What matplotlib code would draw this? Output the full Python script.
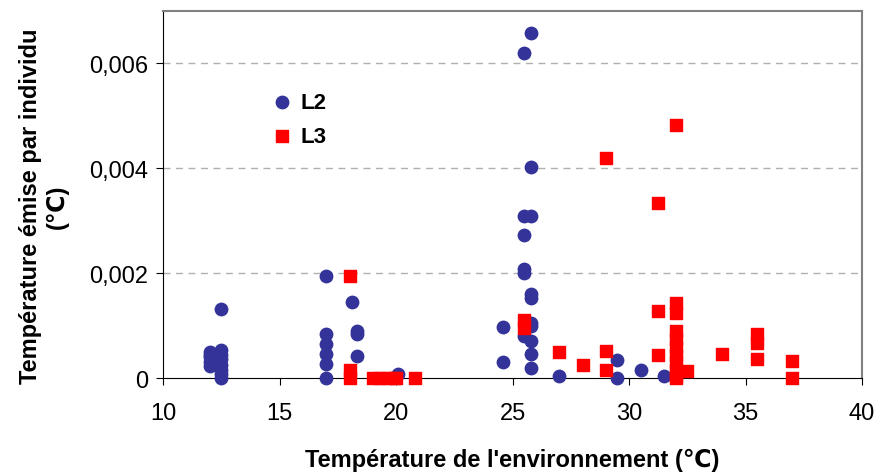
import numpy as np
import matplotlib.pyplot as plt

plt.rcParams['font.family'] = ['Liberation Sans', 'DejaVu Sans']

# L2 (blue circles)
l2_x = [12, 12, 12, 12, 12,
        12.5, 12.5, 12.5, 12.5, 12.5, 12.5, 12.5, 12.5,
        17, 17, 17, 17, 17, 17,
        18.1, 18.3, 18.3, 18.3,
        20.1,
        24.6, 24.6,
        25.5, 25.5, 25.5, 25.5, 25.5, 25.5,
        25.8, 25.8, 25.8, 25.8, 25.8, 25.8, 25.8, 25.8, 25.8, 25.8,
        27.0, 29.5, 29.5, 30.5, 31.5]
l2_y = [0.0005, 0.00045, 0.0004, 0.0003, 0.00024,
        0.00132, 0.00054, 0.00045, 0.00036, 0.00026, 0.00016, 0.00008, 0.0,
        0.00195, 0.00084, 0.00065, 0.00046, 0.00027, 0.0,
        0.00146, 0.0009, 0.00085, 0.00043,
        0.00008,
        0.00098, 0.0003,
        0.0062, 0.0031, 0.00272, 0.00208, 0.002, 0.00081,
        0.00658, 0.00402, 0.0031, 0.0016, 0.00153, 0.00106, 0.001, 0.0007, 0.00046, 0.00019,
        0.00005, 0.00035, 0.0, 0.00016, 0.00005]

# L3 (red squares)
l3_x = [18, 18, 18, 19.0, 19.3, 19.6, 19.9, 20.0, 20.8,
        25.5, 25.5, 27.0, 28.0, 29.0, 29.0, 29.0,
        31.25, 31.25, 31.25,
        32, 32, 32, 32, 32, 32, 32, 32, 32, 32, 32,
        32.5, 34.0, 35.5, 35.5, 35.5, 37, 37]
l3_y = [0.00195, 0.00015, 0.0, 0.0, 0.0, 0.0, 0.0, 0.0, 0.0,
        0.0011, 0.00095, 0.0005, 0.00026, 0.0042, 0.00052, 0.00016,
        0.00333, 0.00128, 0.00044,
        0.00483, 0.00143, 0.00125, 0.0009, 0.00075, 0.0006, 0.00045, 0.0003, 0.00015, 0.00005, 0.0,
        0.00014, 0.00046, 0.00084, 0.00068, 0.00037, 0.00032, 0.0]

x_ticks = [10, 15, 20, 25, 30, 35, 40]
y_ticks = [0, 0.002, 0.004, 0.006]
y_tick_labels = ['0', '0,002', '0,004', '0,006']

fig = plt.figure(figsize=(8.77, 4.77), dpi=100)
ax = fig.add_axes([0.186, 0.205, 0.797, 0.770])

ax.scatter(l2_x, l2_y, s=80, marker='o', color='#333399', zorder=3, clip_on=False, label='L2')
ax.scatter(l3_x, l3_y, s=72, marker='s', color='#ff0000', zorder=4, clip_on=False, label='L3')

ax.set_xlim(10, 40)
ax.set_ylim(0, 0.007)
ax.set_xticks(x_ticks)
ax.set_yticks(y_ticks)
ax.set_yticklabels(y_tick_labels)
ax.tick_params(labelsize=17, length=5, color='black')
ax.tick_params(axis='x', pad=12)
ax.tick_params(axis='y', pad=6)

for y in y_ticks[1:]:
    ax.axhline(y, color='#b0b0b0', linestyle=(0, (5, 4)), linewidth=1, zorder=1)

ax.spines['top'].set_color('#808080')
ax.spines['right'].set_color('#808080')
ax.spines['top'].set_linewidth(1.5)
ax.spines['right'].set_linewidth(1.5)

ax.set_xlabel("Température de l'environnement (\u2103)", fontsize=17, fontweight='bold', labelpad=17)
ax.set_ylabel("Température émise par individu\n(\u2103)", fontsize=17, fontweight='bold')
ax.yaxis.set_label_coords(-0.135, 0.47)

leg = ax.legend(loc='upper left', bbox_to_anchor=(0.11, 0.835), frameon=False,
                prop={'size': 16, 'weight': 'bold'}, handletextpad=-0.2, labelspacing=0.6,
                scatterpoints=1)

fig.savefig('out.png', dpi=100)
